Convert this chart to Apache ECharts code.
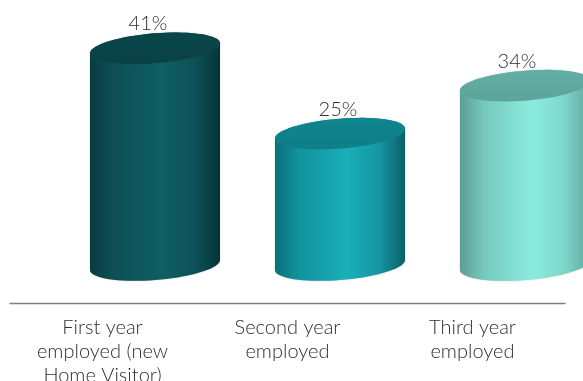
<!DOCTYPE html>
<html>
<head>
<meta charset="utf-8">
<script src="https://cdn.jsdelivr.net/npm/echarts@6/dist/echarts.min.js"></script>
<style>html,body{margin:0;padding:0;background:#fff}#chart{width:583px;height:381px}</style>
</head>
<body>
<div id="chart"></div>
<script>
// Share of home visitors by year of employment
const categories = ['First year\nemployed (new\nHome Visitor)', 'Second year\nemployed', 'Third year\nemployed'];
const shares = [41, 25, 34];
const edgeLeft = ['#083c41', '#0a7079', '#5d9c95'];
const centre = ['#0f5f64', '#19afba', '#8aecde'];
const edgeRight = ['#063439', '#0a6068', '#62a69d'];
const capTop = ['#09464a', '#0e858e', '#63aea4'];
const capBottom = ['#0a4246', '#0f7e87', '#5ca499'];
const labelShift = [-7, -2, -8];

const FONT = 'Lato';
const TEXT = '#2e2e2e';
const HALF_W = 65, HALF_D = 15, SKEW = 5;   // cylinder cross-section
const DEPTH_X = 52.5, DEPTH_Y = 2;          // pseudo-3D offset from the category slot
const STEPS = 72;

// Point on the tilted ellipse at parameter t
function rim(cx, cy, t) {
  return [cx + HALF_W * Math.cos(t), cy + HALF_D * Math.sin(t) - SKEW * Math.cos(t)];
}
function vgrad(a, b) {
  return { type: 'linear', x: 0, y: 0, x2: 0, y2: 1, colorStops: [{ offset: 0, color: a }, { offset: 1, color: b }] };
}
function mix(a, b, t) {
  const pa = echarts.color.parse(a), pb = echarts.color.parse(b);
  return 'rgb(' + [0, 1, 2].map(n => Math.round(pa[n] + (pb[n] - pa[n]) * t)).join(',') + ')';
}

function renderCylinder(params, api) {
  const i = params.dataIndex;
  const top = api.coord([i, api.value(1)]);
  const base = api.coord([i, 0]);
  const cx = top[0] + DEPTH_X, yTop = top[1], yBase = base[1] - DEPTH_Y;

  const body = [], cap = [];
  for (let k = 0; k <= STEPS / 2; k++) body.push(rim(cx, yBase, Math.PI * k / (STEPS / 2)));
  for (let k = 0; k <= STEPS / 2; k++) body.push(rim(cx, yTop, Math.PI + Math.PI * k / (STEPS / 2)));
  for (let k = 0; k < STEPS; k++) cap.push(rim(cx, yTop, 2 * Math.PI * k / STEPS));

  const sideFill = {
    type: 'linear', x: 0, y: 0, x2: 1, y2: 0,
    colorStops: [
      { offset: 0, color: edgeLeft[i] },
      { offset: 0.18, color: mix(edgeLeft[i], centre[i], 0.55) },
      { offset: 0.55, color: centre[i] },
      { offset: 0.8, color: mix(edgeRight[i], centre[i], 0.7) },
      { offset: 1, color: edgeRight[i] }
    ]
  };
  return {
    type: 'group',
    children: [
      { type: 'polygon', shape: { points: body }, style: { fill: sideFill, shadowBlur: 1.5, shadowColor: 'rgba(90,110,110,0.5)' } },
      { type: 'polygon', shape: { points: cap }, style: { fill: vgrad(capTop[i], capBottom[i]) } },
      {
        type: 'text',
        x: cx + labelShift[i], y: yTop - 24.5,
        style: { text: api.value(1) + '%', font: '300 20px ' + FONT, fill: TEXT, align: 'center', verticalAlign: 'middle' }
      }
    ]
  };
}

const chart = echarts.init(document.getElementById('chart'), null, { renderer: 'canvas' });
chart.setOption({
  animation: false,
  grid: { left: 10, right: 18, top: 3, height: 300, outerBoundsMode: 'none' },
  xAxis: {
    type: 'category',
    data: categories,
    axisLine: { onZero: false, lineStyle: { color: '#808080', width: 1.4 } },
    axisTick: { show: false },
    axisLabel: { interval: 0, margin: 13, fontFamily: FONT, fontWeight: 300, fontSize: 20, lineHeight: 24, color: TEXT }
  },
  yAxis: { type: 'value', min: -6.75, max: 49.5, show: false, splitLine: { show: false } },
  series: [{
    type: 'custom',
    clip: false,
    renderItem: renderCylinder,
    data: shares.map((v, i) => [i, v]),
    encode: { x: 0, y: 1 }
  }]
});
</script>
</body>
</html>
